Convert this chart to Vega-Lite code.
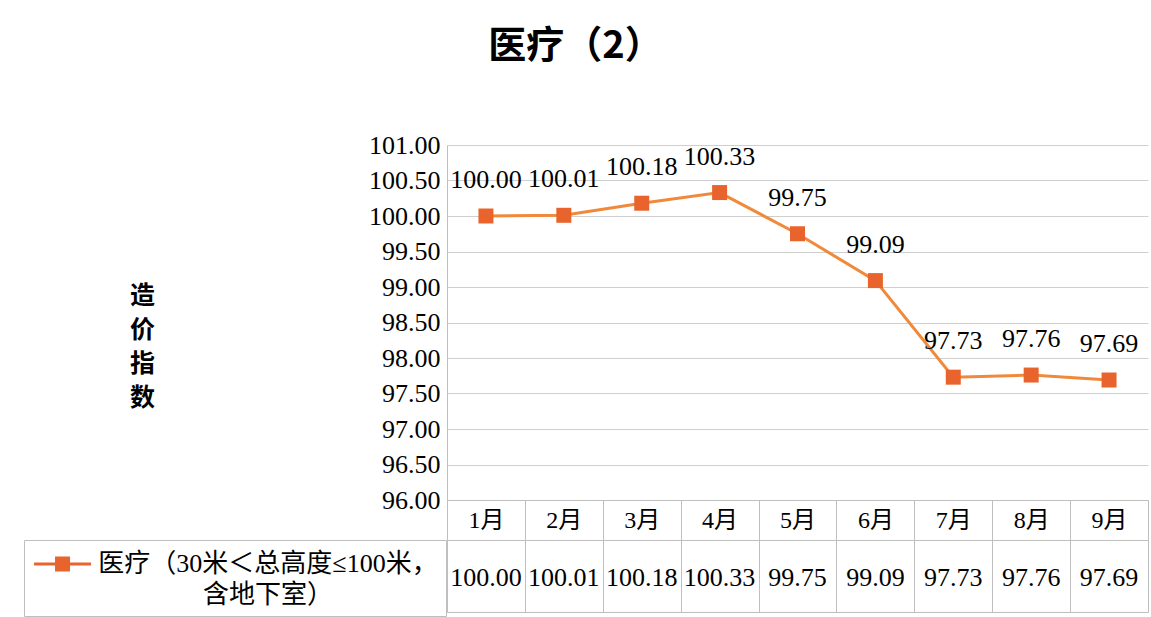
{
  "$schema": "https://vega.github.io/schema/vega-lite/v6.json",
  "width": 701,
  "height": 355,
  "autosize": {"type": "none"},
  "padding": {"left": 447, "top": 145, "right": 3, "bottom": 117},
  "background": "white",
  "title": {"text": "医疗（2）", "font": "Noto Sans CJK SC", "fontSize": 38, "fontWeight": "bold", "color": "#000000", "anchor": "middle", "frame": "group", "dx": -222, "offset": 66},
  "data": {"values": [
    {"m": "1月", "v": 100.00, "s": "医疗（30米＜总高度≤100米，含地下室）"},
    {"m": "2月", "v": 100.01, "s": "医疗（30米＜总高度≤100米，含地下室）"},
    {"m": "3月", "v": 100.18, "s": "医疗（30米＜总高度≤100米，含地下室）"},
    {"m": "4月", "v": 100.33, "s": "医疗（30米＜总高度≤100米，含地下室）"},
    {"m": "5月", "v": 99.75, "s": "医疗（30米＜总高度≤100米，含地下室）"},
    {"m": "6月", "v": 99.09, "s": "医疗（30米＜总高度≤100米，含地下室）"},
    {"m": "7月", "v": 97.73, "s": "医疗（30米＜总高度≤100米，含地下室）"},
    {"m": "8月", "v": 97.76, "s": "医疗（30米＜总高度≤100米，含地下室）"},
    {"m": "9月", "v": 97.69, "s": "医疗（30米＜总高度≤100米，含地下室）"}
  ]},
  "config": {"view": {"stroke": null}, "font": "Liberation Serif", "style": {"guide-label": {"lineHeight": 31}}},
  "encoding": {
    "y": {"field": "v", "type": "quantitative",
      "scale": {"domain": [96, 101], "nice": false, "zero": false},
      "axis": {"title": ["造", "价", "指", "数"], "titleAngle": 0, "titleX": -305, "titleY": 138, "titleAlign": "center", "titleBaseline": "top", "titleFont": "Noto Sans CJK SC", "titleFontSize": 25, "titleFontWeight": "bold", "titleLineHeight": 34, "titleColor": "#000000",
        "values": [96, 96.5, 97, 97.5, 98, 98.5, 99, 99.5, 100, 100.5, 101], "tickCount": 20, "format": ".2f",
        "labelFont": "Liberation Serif", "labelFontSize": 26, "labelColor": "#000000", "labelPadding": 7, "ticks": false, "domainColor": "#bfbfbf", "gridColor": "#cfcfcf", "labelOverlap": false}}
  },
  "layer": [
    {
      "mark": {"type": "line", "color": "#f08a3a", "strokeWidth": 3},
      "encoding": {
        "x": {"field": "m", "type": "nominal", "sort": null, "bandPosition": 0.5,
          "scale": {"type": "band", "paddingInner": 0, "paddingOuter": 0},
          "axis": {"title": null, "orient": "bottom", "domainColor": "#bfbfbf", "tickColor": "#bfbfbf", "tickBand": "extent", "tickSize": 112, "labelAngle": 0, "labelBaseline": "middle", "labelPadding": -92, "labelFont": "Liberation Serif, Noto Sans CJK SC", "labelFontSize": 24, "labelColor": "#000000", "labelOverlap": false}}
      }
    },
    {
      "mark": {"type": "point", "shape": "square", "filled": true, "size": 225, "opacity": 1},
      "encoding": {
        "x": {"field": "m", "type": "nominal", "sort": null, "bandPosition": 0.5, "scale": {"type": "band", "paddingInner": 0, "paddingOuter": 0}, "axis": null},
        "color": {"field": "s", "type": "nominal", "scale": {"range": ["#e8642c"]},
          "legend": {"title": null, "orient": "none", "legendX": -423, "legendY": 395, "padding": 8, "strokeColor": "#bfbfbf", "fillColor": "#ffffff",
            "symbolType": "M-0.93,-0.1H2.87V0.1H-0.93Z M0.47,-0.5H1.47V0.5H0.47Z", "symbolSize": 900, "labelOffset": 204, "labelAlign": "center", "labelBaseline": "middle",
            "labelFont": "Liberation Serif, Noto Sans CJK SC", "labelFontSize": 26, "labelColor": "#000000", "labelLimit": 600,
            "labelExpr": "[slice(datum.label, 0, 16), slice(datum.label, 16)]",
            "encode": {"symbols": {"update": {"fill": {"value": "#e8642c"}, "stroke": {"value": "#e8642c"}, "strokeWidth": {"value": 0}}}, "labels": {"update": {"lineHeight": {"value": 31}}}}}}
      }
    },
    {
      "mark": {"type": "text", "dy": -28, "baseline": "alphabetic", "fontSize": 26, "font": "Liberation Serif", "color": "#000000"},
      "encoding": {
        "x": {"field": "m", "type": "nominal", "sort": null, "bandPosition": 0.5, "scale": {"type": "band", "paddingInner": 0, "paddingOuter": 0}, "axis": null},
        "text": {"field": "v", "type": "quantitative", "format": ".2f"}
      }
    },
    {
      "mark": {"type": "point", "opacity": 0},
      "encoding": {
        "x": {"field": "v", "type": "ordinal", "sort": null, "bandPosition": 0.5, "scale": {"type": "band", "paddingInner": 0, "paddingOuter": 0},
          "axis": {"title": null, "orient": "bottom", "offset": 40, "ticks": false, "domainColor": "#bfbfbf", "labelExpr": "format(datum.value, '.2f')", "labelAngle": 0, "labelBaseline": "middle", "labelPadding": 37, "labelFont": "Liberation Serif", "labelFontSize": 26, "labelColor": "#000000", "labelOverlap": false}}
      }
    },
    {
      "mark": {"type": "point", "opacity": 0},
      "encoding": {
        "x": {"field": "m", "type": "nominal", "sort": null, "bandPosition": 0.5, "scale": {"type": "band", "paddingInner": 0, "paddingOuter": 0},
          "axis": {"title": null, "orient": "bottom", "offset": 112, "ticks": false, "labels": false, "domainColor": "#bfbfbf"}}
      }
    }
  ],
  "resolve": {"scale": {"x": "independent"}, "axis": {"x": "independent"}}
}
